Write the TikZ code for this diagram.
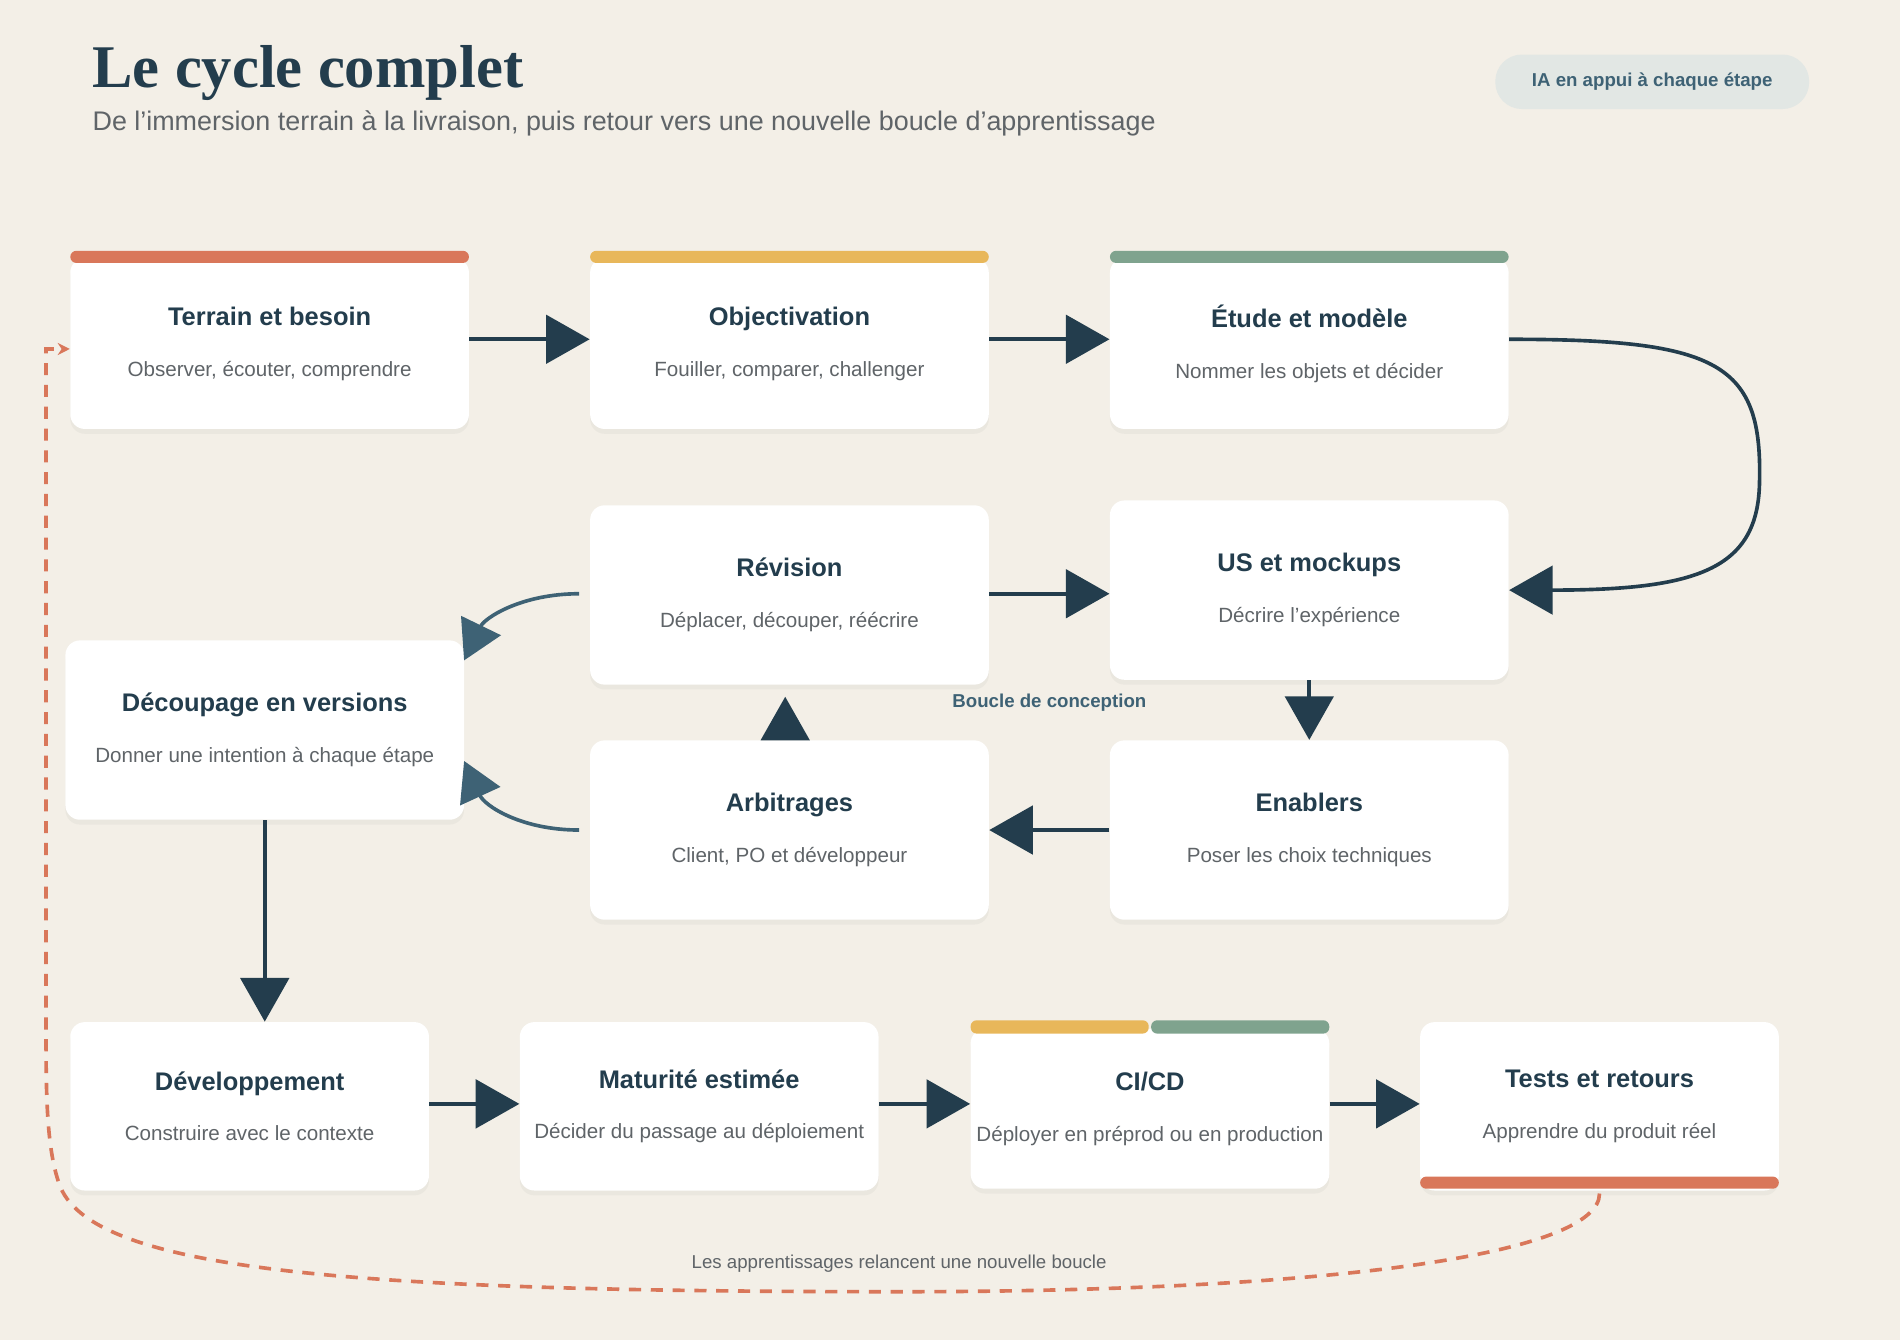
\documentclass[tikz,border=0pt]{standalone}
\usepackage{fontspec}
\setmainfont{Liberation Sans}
\newfontfamily\titlefont{Liberation Serif}
\usetikzlibrary{arrows.meta,shadows}
\definecolor{bg}{HTML}{F3EFE7}
\definecolor{dk}{HTML}{233D4D}
\definecolor{md}{HTML}{3E6275}
\definecolor{rd}{HTML}{D9775A}
\definecolor{yl}{HTML}{E8B75A}
\definecolor{gr}{HTML}{7FA38E}
\definecolor{gy}{HTML}{5F6468}
\definecolor{pill}{HTML}{E2E7E4}
\begin{document}
\begin{tikzpicture}[x=0.5pt,y=-0.5pt,
 box/.style={fill=white,rounded corners=6pt,minimum width=#1,inner sep=0pt,align=center,drop shadow={shadow xshift=0pt,shadow yshift=-2pt,opacity=0.07}},
 box/.default=164.5pt,
 bar/.style={fill=#1,rounded corners=2.5pt,draw=none},
 arr/.style={dk,line width=1.5pt,-{Triangle[length=18pt,width=20pt]}},
 arr2/.style={md,line width=1.5pt,-{Triangle[length=16pt,width=18pt]}},
 loop/.style={rd,line width=1.5pt,dash pattern=on 5pt off 4pt}]
\fill[bg] (0,0) rectangle (1568,1106);
\newcommand{\bx}[1]{{\fontsize{10.5}{12}\selectfont\bfseries\color{dk}#1}}
\newcommand{\sbt}[1]{{\fontsize{8.5}{10}\selectfont\color{gy}#1}}
% title
\node[anchor=base west,inner sep=0pt,text=dk] (title) at (76,72) {\titlefont\bfseries\fontsize{25}{28}\selectfont Le cycle complet};
\node[anchor=base west,inner sep=0pt,text=gy] (sub) at (76,108) {\fontsize{11.1}{13}\selectfont De l’immersion terrain à la livraison, puis retour vers une nouvelle boucle d’apprentissage};
\node[fill=pill,rounded corners=11pt,minimum width=129.5pt,minimum height=22.5pt,text=md] (pill) at (1363.5,67.5) {\fontsize{7.7}{9}\selectfont\bfseries IA en appui à chaque étape};
% boxes
\node[box,minimum height=70.5pt] (t) at (222.5,283.5) {\bx{Terrain et besoin}\\[9pt]\sbt{Observer, écouter, comprendre}};
\node[box,minimum height=70.5pt] (o) at (651.5,283.5) {\bx{Objectivation}\\[9pt]\sbt{Fouiller, comparer, challenger}};
\node[box,minimum height=70.5pt] (e) at (1080.5,283.5) {\bx{Étude et modèle}\\[9pt]\sbt{Nommer les objets et décider}};
\fill[bar=rd] (58,207) rectangle (387,217);
\fill[bar=yl] (487,207) rectangle (816,217);
\fill[bar=gr] (916,207) rectangle (1245,217);
\node[box,minimum height=74pt] (r) at (651.5,491) {\bx{Révision}\\[9pt]\sbt{Déplacer, découper, réécrire}};
\node[box,minimum height=74pt] (u) at (1080.5,487) {\bx{US et mockups}\\[9pt]\sbt{Décrire l’expérience}};
\node[box,minimum height=74pt] (d) at (218.5,602.5) {\bx{Découpage en versions}\\[9pt]\sbt{Donner une intention à chaque étape}};
\node[box,minimum height=74pt] (a) at (651.5,685) {\bx{Arbitrages}\\[9pt]\sbt{Client, PO et développeur}};
\node[box,minimum height=74pt] (n) at (1080.5,685) {\bx{Enablers}\\[9pt]\sbt{Poser les choix techniques}};
\node[box=148pt,minimum height=69.5pt] (dv) at (206,913) {\bx{Développement}\\[9pt]\sbt{Construire avec le contexte}};
\node[box=148pt,minimum height=69.5pt] (m) at (577,913) {\bx{Maturité estimée}\\[9pt]\sbt{Décider du passage au déploiement}};
\node[box=148pt,minimum height=66pt] (c) at (949,915) {\bx{CI/CD}\\[9pt]\sbt{Déployer en préprod ou en production}};
\node[box=148pt,minimum height=69.5pt] (ts) at (1320,913) {\bx{Tests et retours}\\[9pt]\sbt{Apprendre du produit réel}};
\fill[bar=yl] (801,842) rectangle (948,853);
\fill[bar=gr] (950,842) rectangle (1097,853);
\fill[bar=rd] (1172,971) rectangle (1468,981);
\node[text=md] (bc) at (866,580) {\fontsize{7.7}{9}\selectfont\bfseries Boucle de conception};
\node[text=gy] (ll) at (742,1043) {\fontsize{7.7}{9}\selectfont Les apprentissages relancent une nouvelle boucle};
% arrows
\coordinate (rb) at (648,575);
\draw[arr] (t.east|-0,280) -- (o.west|-0,280);
\draw[arr] (o.east|-0,280) -- (e.west|-0,280);
\draw[arr] (e.east|-0,280) .. controls (1420,280) and (1455,300) .. (1452,400) .. controls (1450,470) and (1400,487) .. (u.east);
\draw[arr] (u.south) -- (n.north);
\draw[arr] (n.west) -- (a.east);
\draw[arr] (a.north-|rb) -- (rb);
\draw[arr] (r.east|-0,490) -- (u.west|-0,490);
\draw[arr2] (478,490) .. controls (430,490) and (400,510) .. (383,545);
\draw[arr2] (478,685) .. controls (430,685) and (400,665) .. (383,628);
\draw[arr] (d.south) -- (dv.north-|d.south);
\draw[arr] (dv.east|-0,911) -- (m.west|-0,911);
\draw[arr] (m.east|-0,911) -- (c.west|-0,911);
\draw[arr] (c.east|-0,911) -- (ts.west|-0,911);
\coordinate (ls) at (1320,985);
\draw[loop,-{Stealth[length=5pt,width=5pt]}] (ls) .. controls (1320,1035) and (1100,1066) .. (742,1066) .. controls (300,1066) and (80,1050) .. (50,980) .. controls (38,950) and (38,900) .. (38,850) -- (38,288) -- (t.west|-0,288);
\end{tikzpicture}
\end{document}
